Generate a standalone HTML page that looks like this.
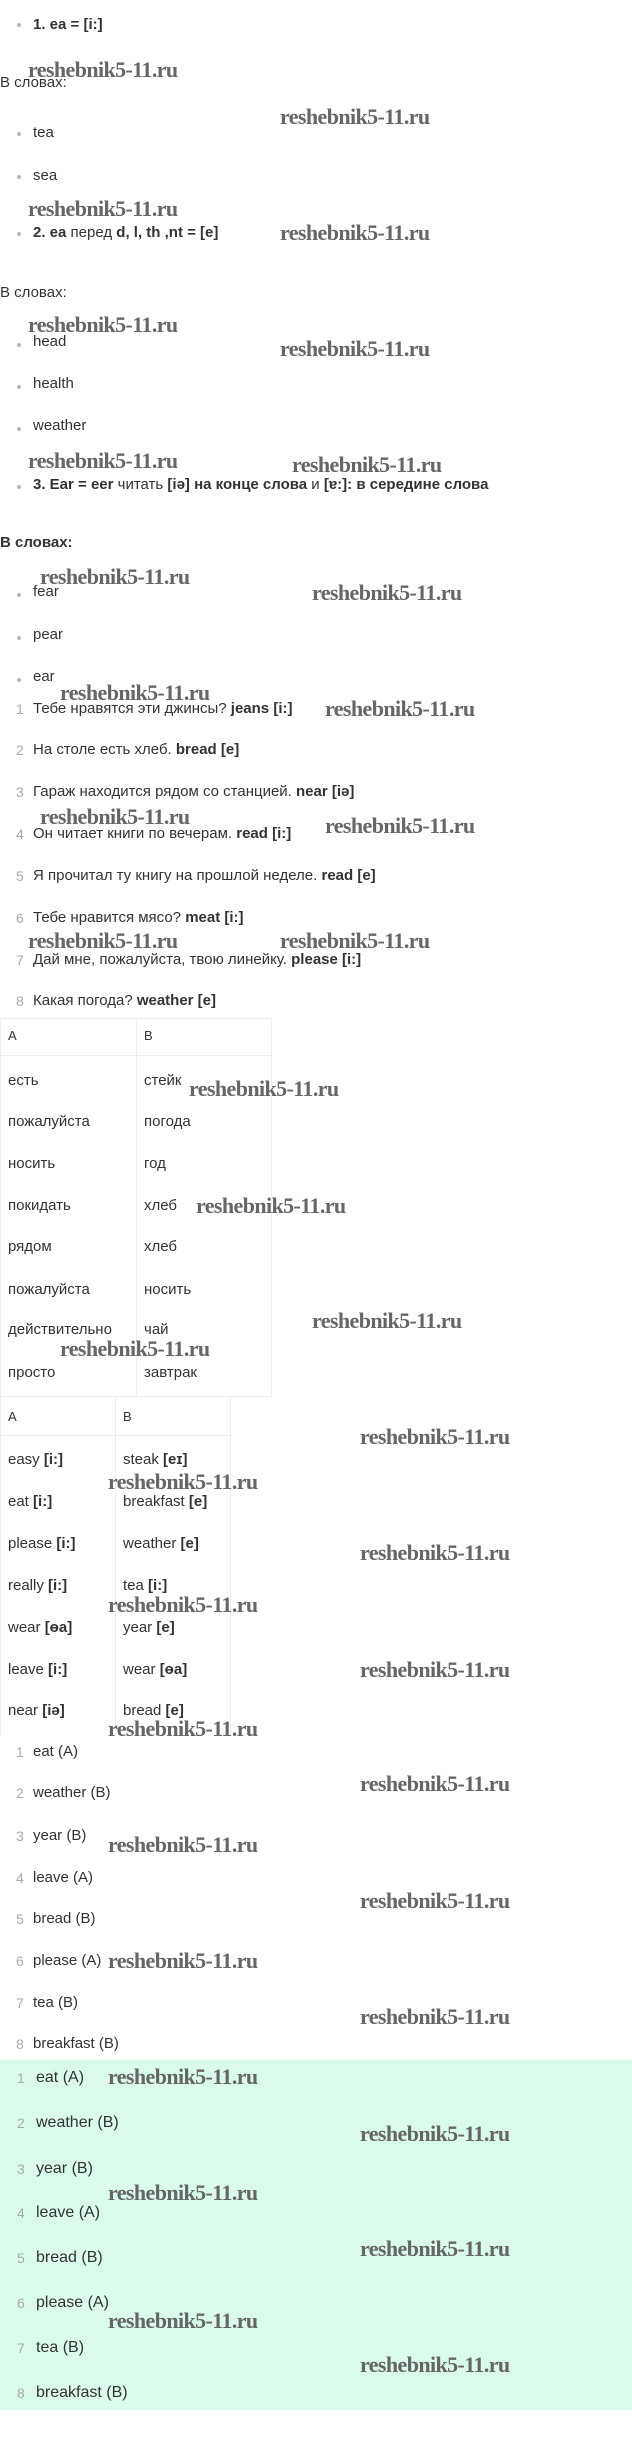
<!DOCTYPE html>
<html><head><meta charset="utf-8"><style>
html,body{margin:0;padding:0;background:#fff;}
body{width:632px;height:2443px;position:relative;overflow:hidden;font-family:"Liberation Sans","DejaVu Sans",sans-serif;font-size:15px;color:#333;}
.t{position:absolute;height:20px;line-height:20px;white-space:nowrap;}
.b{font-weight:bold;}
.dot{position:absolute;width:4px;height:4px;border-radius:50%;background:#bbb;}
.n{position:absolute;height:20px;line-height:20px;color:#aaa;font-size:14px;}
.w{position:absolute;height:24px;line-height:24px;font-family:"Liberation Serif",serif;font-weight:bold;font-size:22px;color:#666;white-space:nowrap;letter-spacing:-0.6px;z-index:5;}
.vl{position:absolute;width:1px;background:#eee;}
.hl{position:absolute;height:1px;background:#eee;}
.green{position:absolute;left:0;top:2060px;width:632px;height:350px;background:#dafbec;}
.g{font-size:16px;}
</style></head><body>
<div class="green"></div>

<div class="dot" style="left:17px;top:23px"></div><div class="t b" style="left:33px;top:15px">1. ea = [i:]</div>
<div class="w" style="left:28px;top:58px">reshebnik5-11.ru</div>
<div class="t" style="left:0;top:73px">В словах:</div>
<div class="w" style="left:280px;top:105px">reshebnik5-11.ru</div>
<div class="dot" style="left:17px;top:132px"></div><div class="t" style="left:33px;top:123px">tea</div>
<div class="dot" style="left:17px;top:175px"></div><div class="t" style="left:33px;top:166px">sea</div>
<div class="w" style="left:28px;top:197px">reshebnik5-11.ru</div>
<div class="dot" style="left:17px;top:232px"></div><div class="t" style="left:33px;top:223px"><b>2. ea</b> перед <b>d, l, th ,nt = [e]</b></div>
<div class="w" style="left:280px;top:221px">reshebnik5-11.ru</div>
<div class="t" style="left:0;top:283px">В словах:</div>
<div class="w" style="left:28px;top:313px">reshebnik5-11.ru</div>
<div class="dot" style="left:17px;top:343px"></div><div class="t" style="left:33px;top:332px">head</div>
<div class="w" style="left:280px;top:337px">reshebnik5-11.ru</div>
<div class="dot" style="left:17px;top:385px"></div><div class="t" style="left:33px;top:374px">health</div>
<div class="dot" style="left:17px;top:427px"></div><div class="t" style="left:33px;top:416px">weather</div>
<div class="w" style="left:28px;top:449px">reshebnik5-11.ru</div>
<div class="w" style="left:292px;top:453px">reshebnik5-11.ru</div>
<div class="dot" style="left:17px;top:485px"></div><div class="t" style="left:33px;top:475px"><b>3. Ear = eer</b> читать <b>[iə] на конце слова</b> и <b>[ɐ:]: в середине слова</b></div>
<div class="t b" style="left:0;top:533px">В словах:</div>
<div class="w" style="left:40px;top:565px">reshebnik5-11.ru</div>
<div class="dot" style="left:17px;top:593px"></div><div class="t" style="left:33px;top:582px">fear</div>
<div class="w" style="left:312px;top:581px">reshebnik5-11.ru</div>
<div class="dot" style="left:17px;top:636px"></div><div class="t" style="left:33px;top:625px">pear</div>
<div class="dot" style="left:17px;top:678px"></div><div class="t" style="left:33px;top:667px">ear</div>
<div class="w" style="left:60px;top:681px">reshebnik5-11.ru</div>

<div class="n" style="left:16px;top:699px">1</div><div class="t" style="left:33px;top:699px">Тебе нравятся эти джинсы? <b>jeans [i:]</b></div>
<div class="w" style="left:325px;top:697px">reshebnik5-11.ru</div>
<div class="n" style="left:16px;top:740px">2</div><div class="t" style="left:33px;top:740px">На столе есть хлеб. <b>bread [e]</b></div>
<div class="n" style="left:16px;top:782px">3</div><div class="t" style="left:33px;top:782px">Гараж находится рядом со станцией. <b>near [iə]</b></div>
<div class="w" style="left:40px;top:805px">reshebnik5-11.ru</div>
<div class="n" style="left:16px;top:824px">4</div><div class="t" style="left:33px;top:824px">Он читает книги по вечерам. <b>read [i:]</b></div>
<div class="w" style="left:325px;top:814px">reshebnik5-11.ru</div>
<div class="n" style="left:16px;top:866px">5</div><div class="t" style="left:33px;top:866px">Я прочитал ту книгу на прошлой неделе. <b>read [e]</b></div>
<div class="n" style="left:16px;top:908px">6</div><div class="t" style="left:33px;top:908px">Тебе нравится мясо? <b>meat [i:]</b></div>
<div class="w" style="left:28px;top:929px">reshebnik5-11.ru</div>
<div class="w" style="left:280px;top:929px">reshebnik5-11.ru</div>
<div class="n" style="left:16px;top:950px">7</div><div class="t" style="left:33px;top:950px">Дай мне, пожалуйста, твою линейку. <b>please [i:]</b></div>
<div class="n" style="left:16px;top:991px">8</div><div class="t" style="left:33px;top:991px">Какая погода? <b>weather [e]</b></div>

<!-- table 1 -->
<div class="hl" style="left:0;top:1018px;width:271px"></div>
<div class="hl" style="left:0;top:1055px;width:271px"></div>
<div class="hl" style="left:0;top:1396px;width:271px"></div>
<div class="vl" style="left:0;top:1018px;height:378px"></div>
<div class="vl" style="left:136px;top:1018px;height:378px"></div>
<div class="vl" style="left:271px;top:1018px;height:378px"></div>
<div class="t" style="left:8px;top:1026px;font-size:13px">A</div><div class="t" style="left:144px;top:1026px;font-size:13px">B</div>
<div class="t" style="left:8px;top:1071px">есть</div><div class="t" style="left:144px;top:1071px">стейк</div>
<div class="w" style="left:189px;top:1077px">reshebnik5-11.ru</div>
<div class="t" style="left:8px;top:1112px">пожалуйста</div><div class="t" style="left:144px;top:1112px">погода</div>
<div class="t" style="left:8px;top:1154px">носить</div><div class="t" style="left:144px;top:1154px">год</div>
<div class="t" style="left:8px;top:1196px">покидать</div><div class="t" style="left:144px;top:1196px">хлеб</div>
<div class="w" style="left:196px;top:1194px">reshebnik5-11.ru</div>
<div class="t" style="left:8px;top:1237px">рядом</div><div class="t" style="left:144px;top:1237px">хлеб</div>
<div class="t" style="left:8px;top:1280px">пожалуйста</div><div class="t" style="left:144px;top:1280px">носить</div>
<div class="t" style="left:8px;top:1320px">действительно</div><div class="t" style="left:144px;top:1320px">чай</div>
<div class="w" style="left:312px;top:1309px">reshebnik5-11.ru</div>
<div class="w" style="left:60px;top:1337px">reshebnik5-11.ru</div>
<div class="t" style="left:8px;top:1363px">просто</div><div class="t" style="left:144px;top:1363px">завтрак</div>

<!-- table 2 -->
<div class="hl" style="left:0;top:1435px;width:230px"></div>
<div class="vl" style="left:0;top:1396px;height:340px"></div>
<div class="vl" style="left:115px;top:1396px;height:340px"></div>
<div class="vl" style="left:230px;top:1396px;height:340px"></div>
<div class="t" style="left:8px;top:1407px;font-size:13px">A</div><div class="t" style="left:123px;top:1407px;font-size:13px">B</div>
<div class="w" style="left:360px;top:1425px">reshebnik5-11.ru</div>
<div class="t" style="left:8px;top:1450px">easy <b>[i:]</b></div><div class="t" style="left:123px;top:1450px">steak <b>[eɪ]</b></div>
<div class="w" style="left:108px;top:1470px">reshebnik5-11.ru</div>
<div class="t" style="left:8px;top:1492px">eat <b>[i:]</b></div><div class="t" style="left:123px;top:1492px">breakfast <b>[e]</b></div>
<div class="t" style="left:8px;top:1534px">please <b>[i:]</b></div><div class="t" style="left:123px;top:1534px">weather <b>[e]</b></div>
<div class="w" style="left:360px;top:1541px">reshebnik5-11.ru</div>
<div class="t" style="left:8px;top:1576px">really <b>[i:]</b></div><div class="t" style="left:123px;top:1576px">tea <b>[i:]</b></div>
<div class="w" style="left:108px;top:1593px">reshebnik5-11.ru</div>
<div class="t" style="left:8px;top:1618px">wear <b>[ɵa]</b></div><div class="t" style="left:123px;top:1618px">year <b>[e]</b></div>
<div class="t" style="left:8px;top:1660px">leave <b>[i:]</b></div><div class="t" style="left:123px;top:1660px">wear <b>[ɵa]</b></div>
<div class="w" style="left:360px;top:1658px">reshebnik5-11.ru</div>
<div class="t" style="left:8px;top:1701px">near <b>[iə]</b></div><div class="t" style="left:123px;top:1701px">bread <b>[e]</b></div>
<div class="w" style="left:108px;top:1717px">reshebnik5-11.ru</div>

<!-- list -->
<div class="n" style="left:16px;top:1742px">1</div><div class="t" style="left:33px;top:1742px">eat (A)</div>
<div class="w" style="left:360px;top:1772px">reshebnik5-11.ru</div>
<div class="n" style="left:16px;top:1783px">2</div><div class="t" style="left:33px;top:1783px">weather (B)</div>
<div class="n" style="left:16px;top:1826px">3</div><div class="t" style="left:33px;top:1826px">year (B)</div>
<div class="w" style="left:108px;top:1833px">reshebnik5-11.ru</div>
<div class="n" style="left:16px;top:1868px">4</div><div class="t" style="left:33px;top:1868px">leave (A)</div>
<div class="w" style="left:360px;top:1889px">reshebnik5-11.ru</div>
<div class="n" style="left:16px;top:1909px">5</div><div class="t" style="left:33px;top:1909px">bread (B)</div>
<div class="n" style="left:16px;top:1951px">6</div><div class="t" style="left:33px;top:1951px">please (A)</div>
<div class="w" style="left:108px;top:1949px">reshebnik5-11.ru</div>
<div class="n" style="left:16px;top:1993px">7</div><div class="t" style="left:33px;top:1993px">tea (B)</div>
<div class="w" style="left:360px;top:2005px">reshebnik5-11.ru</div>
<div class="n" style="left:16px;top:2034px">8</div><div class="t" style="left:33px;top:2034px">breakfast (B)</div>

<!-- green list -->
<div class="n" style="left:17px;top:2068px">1</div><div class="t g" style="left:36px;top:2068px">eat (A)</div>
<div class="w" style="left:108px;top:2065px">reshebnik5-11.ru</div>
<div class="n" style="left:17px;top:2113px">2</div><div class="t g" style="left:36px;top:2113px">weather (B)</div>
<div class="w" style="left:360px;top:2122px">reshebnik5-11.ru</div>
<div class="n" style="left:17px;top:2159px">3</div><div class="t g" style="left:36px;top:2159px">year (B)</div>
<div class="w" style="left:108px;top:2181px">reshebnik5-11.ru</div>
<div class="n" style="left:17px;top:2203px">4</div><div class="t g" style="left:36px;top:2203px">leave (A)</div>
<div class="w" style="left:360px;top:2237px">reshebnik5-11.ru</div>
<div class="n" style="left:17px;top:2248px">5</div><div class="t g" style="left:36px;top:2248px">bread (B)</div>
<div class="n" style="left:17px;top:2293px">6</div><div class="t g" style="left:36px;top:2293px">please (A)</div>
<div class="w" style="left:108px;top:2309px">reshebnik5-11.ru</div>
<div class="n" style="left:17px;top:2338px">7</div><div class="t g" style="left:36px;top:2338px">tea (B)</div>
<div class="w" style="left:360px;top:2353px">reshebnik5-11.ru</div>
<div class="n" style="left:17px;top:2383px">8</div><div class="t g" style="left:36px;top:2383px">breakfast (B)</div>
</body></html>
